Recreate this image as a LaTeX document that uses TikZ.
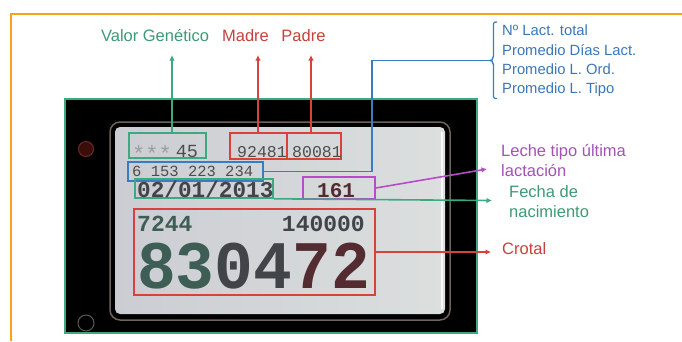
\documentclass[tikz,border=0pt]{standalone}
\usepackage{fontspec}
\setmainfont{Liberation Sans}
\newfontfamily\lcdfont{Liberation Mono}
\usepackage{tikz}
\usetikzlibrary{arrows.meta,positioning}
\usepackage{xcolor}
\definecolor{frameor}{HTML}{F7A41C}
\definecolor{tagred}{HTML}{D9413B}
\definecolor{tagredtxt}{HTML}{C8413A}
\definecolor{taggreen}{HTML}{3BAA80}
\definecolor{taggreentxt}{HTML}{3E9A76}
\definecolor{tagblue}{HTML}{3A7CC0}
\definecolor{tagbluetxt}{HTML}{3B77B8}
\definecolor{tagpurple}{HTML}{B84BC8}
\definecolor{tagpurpletxt}{HTML}{A452B8}
\definecolor{bezel}{HTML}{6E625D}
\definecolor{lcdleft}{HTML}{CBCDD3}
\definecolor{lcdright}{HTML}{DCDFDE}
\definecolor{lcdink}{HTML}{4A4F4D}
\definecolor{lcdgreen}{HTML}{3E5E55}
\definecolor{lcdslate}{HTML}{41454A}
\definecolor{lcdbrown}{HTML}{532B30}
\definecolor{holefill}{HTML}{3A0D0B}
\definecolor{holeedge}{HTML}{6A2A25}

\begin{document}
\begin{tikzpicture}[x=1pt, y=-1pt,
  lbl/.style={inner sep=0pt, font=\fontsize{16.5}{20}\selectfont},
  lst/.style={inner sep=0pt, align=left, text=tagbluetxt, font=\fontsize{14.8}{19.3}\selectfont},
  hlbox/.style={draw=#1, line width=1.6pt, inner sep=0pt},
  lcd/.style={inner sep=0pt, anchor=base west, text=lcdink, font=\lcdfont\fontsize{16.5}{18}\selectfont},
  lcdbold/.style={inner sep=0pt, anchor=base west, text=lcdink, font=\lcdfont\bfseries\fontsize{22.7}{24}\selectfont},
  tagline/.style={line width=1.6pt, draw=#1},
  tagarrow/.style={-{Latex[length=5.5pt,width=5.5pt]}, line width=1.6pt, draw=#1, fill=#1}
]
\useasboundingbox (0,0) rectangle (682,341);
\fill[white] (0,0) rectangle (682,341);
\draw[frameor, line width=2.5pt] (682,14) -- (11,14) -- (11,341);

\draw[taggreen, line width=1.2pt, fill=black] (65,99) rectangle (477,333);
\draw[bezel, line width=1.5pt, rounded corners=10pt] (110,122) rectangle (450,320);
\shade[left color=lcdleft, right color=lcdright, rounded corners=5pt] (115,127) rectangle (445,314);
\draw[white!80!lcdright, line width=2pt] (441.5,132) -- (441.5,309);
\draw[draw=holeedge, fill=holefill, line width=1pt] (86,149) circle (7.5);
\draw[draw=gray!70!black, line width=1pt] (86,323) circle (8);

\node[hlbox=taggreen, minimum width=77pt, minimum height=25pt] (vgbox) at (167.5,145.5) {};
\node[hlbox=tagred, minimum width=57pt, minimum height=26pt] (madbox) at (258.5,146) {};
\node[hlbox=tagred, minimum width=54pt, minimum height=26pt] (padbox) at (314,146) {};
\node[hlbox=tagblue, minimum width=135pt, minimum height=19pt] (lacbox) at (195.5,171.5) {};
\node[hlbox=taggreen, minimum width=138pt, minimum height=19pt] (datebox) at (204,188.5) {};
\node[hlbox=tagpurple, minimum width=72pt, minimum height=22pt] (lecbox) at (339,188) {};
\node[hlbox=tagred, minimum width=241pt, minimum height=86pt] (crotbox) at (254.5,252) {};

\node[lcd, font=\lcdfont\fontsize{18.5}{20}\selectfont] (vgtxt) at (132,157)
  {\textcolor{lcdink!45!lcdright}{\raisebox{-4pt}{\fontsize{22}{22}\selectfont***}}\kern4pt 45};
\node[lcd] (madtxt) at (237,157) {92481};
\node[lcd] (padtxt) at (292,157) {80081};
\node[lcd, font=\lcdfont\fontsize{15.5}{17}\selectfont] (lactxt) at (132,176.5) {6 153 223 234};
\node[lcdbold, text=lcdslate] (datetxt) at (137,197) {02/01/2013};
\node[lcdbold, text=lcdbrown, font=\lcdfont\bfseries\fontsize{21}{23}\selectfont] (lectxt) at (317,197) {161};
\node[lcdbold, text=lcdgreen, font=\lcdfont\bfseries\fontsize{23}{25}\selectfont] (lotxt) at (137,231.5) {7244};
\node[lcdbold, anchor=base east, text=lcdslate, font=\lcdfont\bfseries\fontsize{23}{25}\selectfont] (hitxt) at (365,231.5) {140000};
\node[lcdbold, font=\lcdfont\bfseries\fontsize{68}{68}\selectfont] (crottxt) at (137,288)
  {\scalebox{0.95}[1]{\textcolor{lcdgreen}{83}\textcolor{lcdslate}{04}\textcolor{lcdbrown}{72}}};

\node[lbl, anchor=base, text=taggreentxt] (vgen) at (155,41) {Valor Genético};
\node[lbl, anchor=base, text=tagredtxt] (madre) at (245.5,41) {Madre};
\node[lbl, anchor=base, text=tagredtxt] (padre) at (303.5,41) {Padre};
\node[lst, anchor=west] (lactlist) at (502,61) {Nº Lact. total\\Promedio Días Lact.\\Promedio L. Ord.\\Promedio L. Tipo};
\node[lbl, align=left, anchor=west, text=tagpurpletxt] (leche) at (501,160) {Leche tipo última\\lactación};
\node[lbl, align=left, anchor=west, text=taggreentxt] (fecha) at (509,202) {Fecha de\\nacimiento};
\node[lbl, anchor=base west, text=tagredtxt] (crotal) at (502,254) {Crotal};

\coordinate (vgtip) at (172,55);
\coordinate (madtip) at (258,55);
\coordinate (padtip) at (311,55);
\coordinate (lacturn) at (372,60.5);
\coordinate (lacbrk) at (491,60.5);
\coordinate (lectip) at (487,169);
\coordinate (datetip) at (492,200.5);
\coordinate (crottip) at (491,252);

\draw[tagarrow=taggreen] (vgbox.north -| vgtip) -- (vgtip);
\draw[tagarrow=tagred] (madbox.north -| madtip) -- (madtip);
\draw[tagarrow=tagred] (padbox.north -| padtip) -- (padtip);
\draw[tagline=tagblue] (lacbox.east) -| (lacturn) -- (lacbrk);
\draw[tagline=tagblue, line width=1.2pt, rounded corners=2pt] (497,22) -- (493.5,22) -- (493.5,58) -- (491,60.5) -- (493.5,63) -- (493.5,98.5) -- (497,98.5);
\draw[tagarrow=tagpurple] (lecbox.east) -- (lectip);
\draw[tagarrow=taggreen] (datebox.south east) -- (datetip);
\draw[tagarrow=tagred] (crotbox.east) -- (crottip);
\end{tikzpicture}
\end{document}
